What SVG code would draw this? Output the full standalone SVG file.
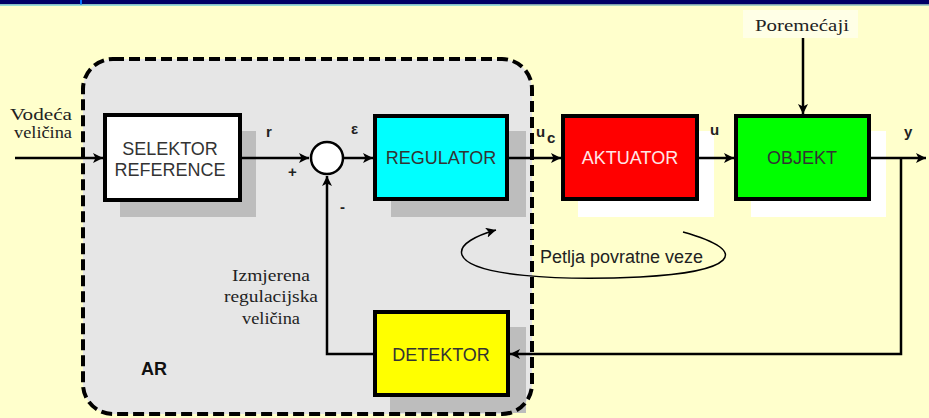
<svg xmlns="http://www.w3.org/2000/svg" width="929" height="418" viewBox="0 0 929 418">
  <defs>
    <marker id="arrow" viewBox="0 0 10 10" refX="10" refY="5" markerWidth="10" markerHeight="10" markerUnits="userSpaceOnUse" orient="auto">
      <path d="M0,0 L10,5 L0,10 L2.5,5 z" fill="#000"/>
    </marker>
  </defs>
  <style>
    .block { stroke: #000; stroke-width: 4; }
    .shadow-grey { fill: #bdbdbd; }
    .shadow-white { fill: #ffffff; }
    .blabel { font-family: "Liberation Sans", Arial, sans-serif; font-size: 18px; fill: #333; text-anchor: middle; }
    .sig { font-family: "Liberation Sans", Arial, sans-serif; font-size: 15px; font-weight: bold; fill: #222; }
    .serif { font-family: "Liberation Serif", "Times New Roman", serif; font-size: 16px; fill: #222; }
    .wire { fill: none; stroke: #000; stroke-width: 2.5; }
  </style>

  <!-- background and title strip -->
  <rect x="0" y="0" width="929" height="418" fill="#ffffcc"/>
  <rect x="0" y="0" width="929" height="4.5" fill="#000066"/>
  <rect x="0" y="4.5" width="929" height="1.2" fill="#7fbfbf"/>
  <rect x="0" y="4.5" width="500" height="1.2" fill="#8fe0e0"/>
  <rect x="80" y="0" width="2" height="4.5" fill="#0070ff"/>

  <!-- controller boundary (AR) -->
  <g id="ar-boundary">
    <rect x="83" y="59" width="449" height="355" rx="30" ry="30" fill="#e6e6e6"/>
    <text x="141" y="375" font-family="Liberation Sans, Arial, sans-serif" font-size="18" font-weight="bold" fill="#111">AR</text>
  </g>

  <g id="selektor">
    <rect class="shadow-grey" x="120" y="131" width="136" height="86"/>
    <rect class="block" x="105" y="115" width="135" height="85" fill="#fff"/>
    <text class="blabel" x="170" y="155">SELEKTOR</text>
    <text class="blabel" x="170" y="176">REFERENCE</text>
  </g>

  <g id="regulator">
    <rect class="shadow-grey" x="391" y="131" width="135" height="86"/>
    <rect class="block" x="375" y="116" width="132" height="83" fill="#00ffff"/>
    <text class="blabel" x="441" y="164">REGULATOR</text>
  </g>

  <g id="aktuator">
    <rect class="shadow-white" x="578" y="131" width="136" height="86"/>
    <rect class="block" x="563" y="116" width="134" height="83" fill="#ff0000"/>
    <text class="blabel" x="630" y="164" style="fill:#ffe6e6">AKTUATOR</text>
  </g>

  <g id="objekt">
    <rect class="shadow-white" x="751" y="131" width="135" height="86"/>
    <rect class="block" x="736" y="116" width="133" height="83" fill="#00ff00"/>
    <text class="blabel" x="802" y="164">OBJEKT</text>
  </g>

  <g id="detektor">
    <rect class="shadow-grey" x="390" y="327" width="136" height="86"/>
    <rect class="block" x="375" y="312" width="133" height="83" fill="#ffff00"/>
    <text class="blabel" x="441" y="361">DETEKTOR</text>
  </g>

  <!-- connectors -->
  <g id="connectors">
    <line class="wire" x1="15" y1="158" x2="103" y2="158" marker-end="url(#arrow)"/>
    <line class="wire" x1="242" y1="158" x2="309" y2="158" marker-end="url(#arrow)"/>
    <line class="wire" x1="343" y1="158" x2="373" y2="158" marker-end="url(#arrow)"/>
    <line class="wire" x1="509" y1="158" x2="561" y2="158" marker-end="url(#arrow)"/>
    <line class="wire" x1="699" y1="158" x2="734" y2="158" marker-end="url(#arrow)"/>
    <line class="wire" x1="871" y1="158" x2="926" y2="158" marker-end="url(#arrow)"/>
    <line class="wire" x1="803" y1="38" x2="803" y2="114" marker-end="url(#arrow)"/>
    <polyline class="wire" points="901,158 901,354 510,354" marker-end="url(#arrow)"/>
    <polyline class="wire" points="373,354 327,354 327,176" marker-end="url(#arrow)"/>
    <!-- feedback loop indicator -->
    <path d="M683,232 C755,252 732,272 640,277 C560,281 470,276 462,255 C458,244 478,235 496,230" fill="none" stroke="#000" stroke-width="1.5" marker-end="url(#arrow)"/>
  </g>

  <!-- dashed outline of the controller, drawn over the wires it crosses -->
  <rect x="83" y="59" width="449" height="355" rx="30" ry="30" fill="none" stroke="#000" stroke-width="4" stroke-dasharray="11,5"/>

  <!-- summing junction -->
  <g id="sum">
    <circle cx="327" cy="158" r="16" fill="#fff" stroke="#000" stroke-width="2.5"/>
    <text class="sig" x="288" y="177" font-weight="normal">+</text>
    <text class="sig" x="340" y="212">-</text>
  </g>

  <g id="poremecaji">
    <rect x="743" y="10" width="115" height="28" fill="#ffffe6"/>
    <text class="serif" x="802" y="31" text-anchor="middle" textLength="94" lengthAdjust="spacingAndGlyphs">Poremećaji</text>
  </g>

  <!-- signal labels -->
  <g id="labels">
    <text class="sig" x="266" y="137">r</text>
    <text class="sig" x="351" y="134" font-weight="normal">ε</text>
    <text class="sig" x="536" y="137">u</text>
    <text class="sig" x="547" y="143" font-size="9">c</text>
    <text class="sig" x="710" y="135">u</text>
    <text class="sig" x="904" y="137">y</text>
    <text class="serif" x="10" y="120" textLength="62" lengthAdjust="spacingAndGlyphs">Vodeća</text>
    <text class="serif" x="14" y="138" textLength="58" lengthAdjust="spacingAndGlyphs">veličina</text>
    <text class="serif" x="271" y="281" text-anchor="middle" textLength="78" lengthAdjust="spacingAndGlyphs">Izmjerena</text>
    <text class="serif" x="271" y="302" text-anchor="middle" textLength="94" lengthAdjust="spacingAndGlyphs">regulacijska</text>
    <text class="serif" x="271" y="324" text-anchor="middle" textLength="58" lengthAdjust="spacingAndGlyphs">veličina</text>
    <text x="540" y="263" font-family="Liberation Sans, Arial, sans-serif" font-size="18" fill="#222" textLength="163" lengthAdjust="spacingAndGlyphs">Petlja povratne veze</text>
  </g>
</svg>
